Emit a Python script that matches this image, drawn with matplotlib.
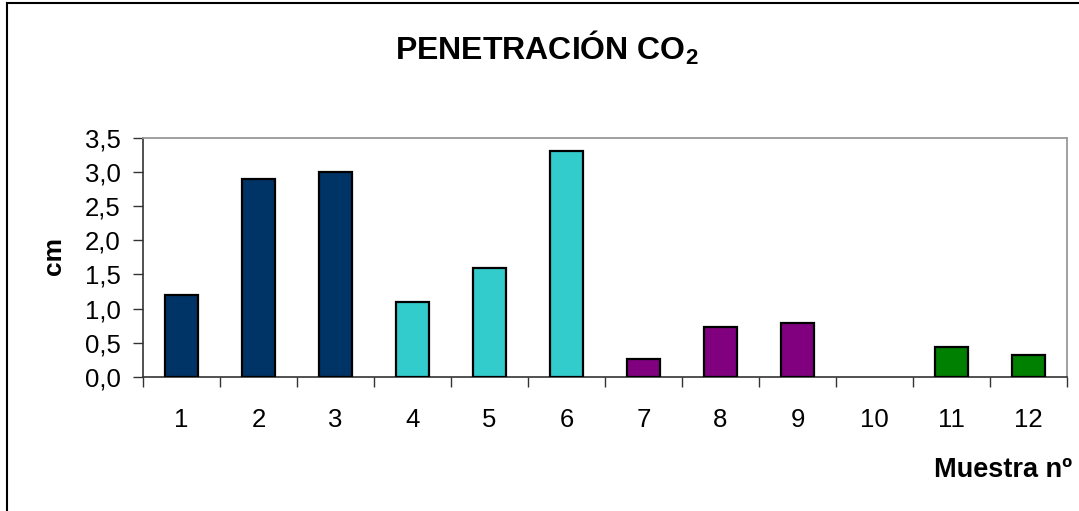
import matplotlib as mpl
import matplotlib.pyplot as plt
import numpy as np

# penetracion de CO2 por muestra
muestras = ['1', '2', '3', '4', '5', '6', '7', '8', '9', '10', '11', '12']
penetracion = [1.2, 2.9, 3.0, 1.1, 1.6, 3.3, 0.26, 0.73, 0.79, 0.0, 0.44, 0.32]
colores = ['#003366'] * 3 + ['#33CCCC'] * 3 + ['#800080'] * 3 + ['#008000'] * 3

plt.rcParams['font.family'] = ['Liberation Sans', 'DejaVu Sans']
plt.rcParams['mathtext.fontset'] = 'custom'
plt.rcParams['mathtext.bf'] = 'Liberation Sans:bold'

fig = plt.figure(figsize=(10.79, 5.11), dpi=100)
ax = fig.add_axes([0.1325, 0.2622, 0.8564, 0.4687])

x = np.arange(len(muestras))
# sin borde en las barras de altura cero
bordes = [1.6 if v > 0 else 0 for v in penetracion]
ax.bar(x, penetracion, width=0.42, color=colores, edgecolor='black', linewidth=bordes, zorder=3)

ax.set_xlim(-0.5, len(muestras) - 0.5)
ax.set_ylim(0, 3.5)
ax.set_yticks(np.arange(0, 3.51, 0.5))
ax.yaxis.set_major_formatter(mpl.ticker.FuncFormatter(lambda v, p: f'{v:.1f}'.replace('.', ',')))

# marcas en los limites de categoria, etiquetas en el centro
ax.set_xticks(np.arange(-0.5, len(muestras), 1.0))
ax.set_xticklabels([])
ax.set_xticks(x, minor=True)
ax.set_xticklabels(muestras, minor=True)
ax.tick_params(axis='x', which='major', direction='out', length=7, width=1, color='#333333')
ax.tick_params(axis='x', which='minor', length=0, pad=22, labelsize=18.5)
ax.tick_params(axis='y', direction='out', length=7, width=1, color='#333333', labelsize=18.5, pad=9)

for s in ['top', 'right']:
    ax.spines[s].set_color('#999999')
    ax.spines[s].set_linewidth(1.3)
for s in ['left', 'bottom']:
    ax.spines[s].set_color('#333333')
    ax.spines[s].set_linewidth(1.2)

fig.text(0.507, 0.883, 'PENETRACIÓN CO$\\mathbf{_2}$', ha='center', va='baseline',
         fontsize=23, fontweight='bold')
fig.text(0.050, 0.499, 'cm', rotation=90, ha='center', va='center', fontsize=19, fontweight='bold')
fig.text(0.9935, 0.0665, 'Muestra nº', ha='right', va='baseline', fontsize=19.5, fontweight='bold')

# marco del grafico (solo lados izquierdo y superior)
fig.add_artist(plt.Line2D([0.0065, 0.0065], [0.0, 0.994], transform=fig.transFigure,
                          color='black', linewidth=1.5))
fig.add_artist(plt.Line2D([0.0065, 1.0], [0.994, 0.994], transform=fig.transFigure,
                          color='black', linewidth=1.5))

fig.savefig('out.png', dpi=100)
